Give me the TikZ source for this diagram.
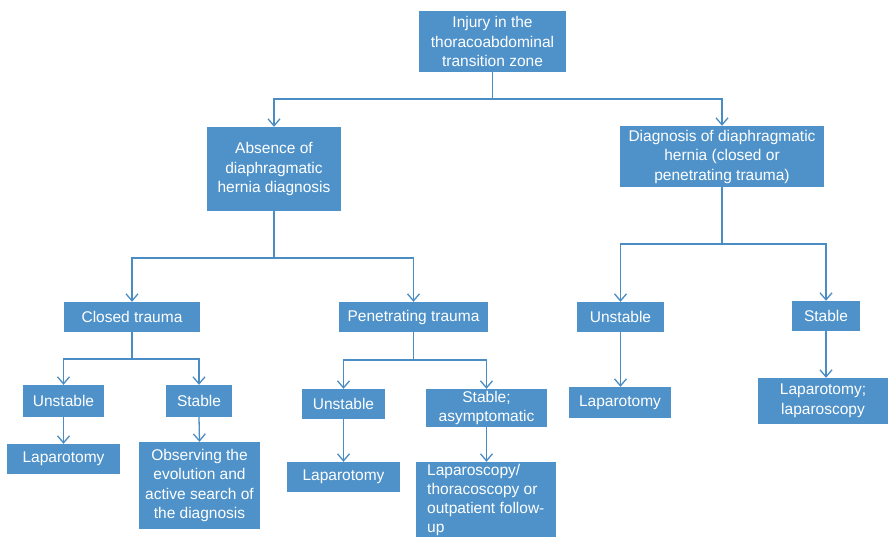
\documentclass[tikz,border=0pt]{standalone}
\usepackage{fontspec}
\setmainfont{Liberation Sans}
\usetikzlibrary{arrows.meta}
\definecolor{boxblue}{RGB}{79,146,201}
\definecolor{lineblue}{RGB}{74,140,196}
\tikzset{
  box/.style={fill=boxblue, draw=none, text=white, inner sep=0pt, align=center,
    font={\fontsize{15.5}{19.5}\selectfont}},
  link/.style={draw=lineblue, line width=1.3pt},
  arr/.style={link, -{Straight Barb[length=7pt,width=12pt]}}
}
\begin{document}
\begin{tikzpicture}[x=1pt,y=-1pt]
\clip (0,0) rectangle (888,536);
\fill[white] (0,0) rectangle (888,536);

% boxes
\node[box, minimum width=147pt, minimum height=61pt] (top) at (492.5,41.5) {Injury in the\\thoracoabdominal\\transition zone};
\node[box, minimum width=134pt, minimum height=84pt] (abs) at (274,169) {Absence of\\diaphragmatic\\hernia diagnosis};
\node[box, minimum width=204pt, minimum height=61pt] (diag) at (722,156.5) {Diagnosis of diaphragmatic\\hernia (closed or\\penetrating trauma)};

\node[box, minimum width=136pt, minimum height=30pt] (closed) at (132,317) {Closed trauma};
\node[box, minimum width=149pt, minimum height=30pt] (pen) at (413.5,317) {Penetrating trauma};

\node[box, minimum width=81pt, minimum height=32pt] (u1) at (63.5,401) {Unstable};
\node[box, minimum width=66pt, minimum height=32pt] (s1) at (199,401) {Stable};
\node[box, minimum width=113pt, minimum height=30pt] (l1) at (63.5,459) {Laparotomy};
\node[box, minimum width=121pt, minimum height=87pt] (obs) at (199.5,485.5) {Observing the\\evolution and\\active search of\\the diagnosis};

\node[box, minimum width=83pt, minimum height=30pt] (u2) at (343.5,404) {Unstable};
\node[box, minimum width=121pt, minimum height=38pt] (s2) at (486.5,408) {Stable;\\asymptomatic};
\node[box, minimum width=113pt, minimum height=30pt] (l2) at (343.5,477) {Laparotomy};
\node[box, minimum width=140pt, minimum height=80pt] (lap2) at (486,502) {};
\node[text=white, inner sep=0pt, align=left, font={\fontsize{15.5}{19}\selectfont},
  anchor=north west] (lap2t) at (427,464) {Laparoscopy/\\thoracoscopy or\\outpatient follow-\\up};

\node[box, minimum width=87pt, minimum height=30pt] (u3) at (620.5,317) {Unstable};
\node[box, minimum width=68pt, minimum height=30pt] (s3) at (826,316) {Stable};
\node[box, minimum width=102pt, minimum height=31pt] (l3) at (620,402.5) {Laparotomy};
\node[box, minimum width=130pt, minimum height=46pt] (ll3) at (823,401) {Laparotomy;\\laparoscopy};

% branch points
\coordinate (j0) at (492.5,99);
\coordinate (j1) at (274,258);
\coordinate (j2) at (722,244);
\coordinate (j3) at (132,359);
\coordinate (j4) at (413.5,360);

% connectors
\draw[link] (top.south) -- (j0);
\draw[arr] (j0) -| (abs.north);
\draw[arr] (j0) -| (diag.north);

\draw[link] (abs.south) -- (j1);
\draw[arr] (j1) -| (closed.north);
\draw[arr] (j1) -| (pen.north);

\draw[link] (diag.south) -- (j2);
\draw[arr] (j2) -| (u3.north);
\draw[arr] (j2) -| (s3.north);

\draw[link] (closed.south) -- (j3);
\draw[arr] (j3) -| (u1.north);
\draw[arr] (j3) -| (s1.north);

\draw[link] (pen.south) -- (j4);
\draw[arr] (j4) -| (u2.north);
\draw[arr] (j4) -| (s2.north);

\draw[arr] (u1.south) -- (l1.north);
\draw[arr] (s1.south) -- (obs.north);
\draw[arr] (u2.south) -- (l2.north);
\draw[arr] (s2.south) -- (s2.south |- lap2.north);
\draw[arr] (u3.south) -- (u3.south |- l3.north);
\draw[arr] (s3.south) -- (s3.south |- ll3.north);
\end{tikzpicture}
\end{document}
